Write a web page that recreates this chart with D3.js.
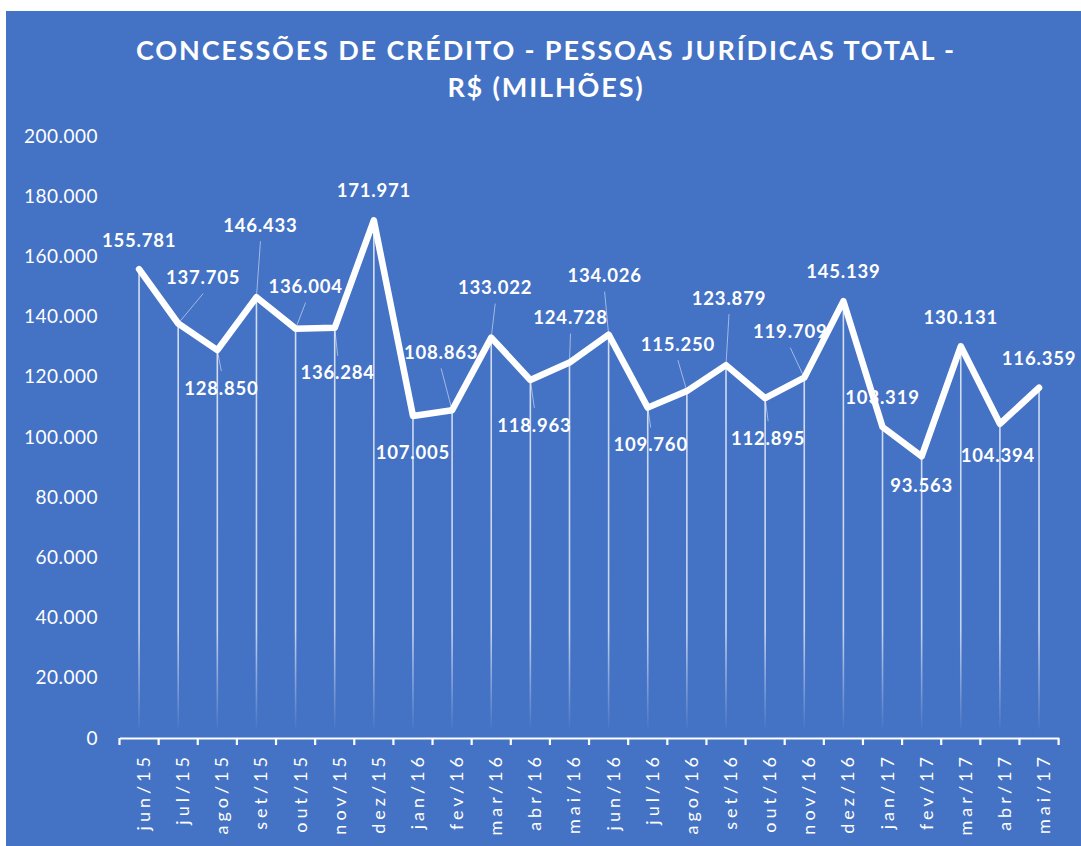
<!DOCTYPE html>
<html><head><meta charset="utf-8">
<script src="https://cdn.jsdelivr.net/npm/d3@7"></script>
<style>html,body{margin:0;padding:0;background:#fff;overflow:hidden}</style>
</head><body>
<svg id="c" width="1081" height="846"></svg>
<script>
// ---- data ----
const categories = ["jun/15","jul/15","ago/15","set/15","out/15","nov/15","dez/15","jan/16","fev/16","mar/16","abr/16","mai/16","jun/16","jul/16","ago/16","set/16","out/16","nov/16","dez/16","jan/17","fev/17","mar/17","abr/17","mai/17"];
const values = [155781,137705,128850,146433,136004,136284,171971,107005,108863,133022,118963,124728,134026,109760,115250,123879,112895,119709,145139,103319,93563,130131,104394,116359];
const yTicks = [0,20000,40000,60000,80000,100000,120000,140000,160000,180000,200000];
const titleLines = ["CONCESSÕES DE CRÉDITO - PESSOAS JURÍDICAS TOTAL -","R$ (MILHÕES)"];

// ---- layout (label offsets in px from each point) ----
const labelOffsets = [[0,-29],[25,-46],[4,38],[4,-72],[10,-42],[3,45],[0,-30],[0,36],[-11,-58],[4,-50],[4,45],[1,-45],[-4,-59],[3,37],[-9,-47],[3,-67],[3,40],[-14,-46],[0,-30],[0,-30],[0,29],[0,-29],[-2,32],[0,-29]];

const svg = d3.select("#c");
const W = 1081, H = 846;
const FONT = "Lato, 'Open Sans', sans-serif";

svg.append("rect").attr("x",6).attr("y",11).attr("width",W-6).attr("height",H-11).attr("fill","#4472C4");

const x = d3.scaleBand().domain(categories).range([119.5,1058.6]).padding(0);
const y = d3.scaleLinear().domain([0,200000]).range([738,136]);
const cx = d => x(d) + x.bandwidth()/2;

const loc = d3.formatLocale({decimal:",",thousands:".",grouping:[3],currency:["R$",""]});
const fmt = loc.format(",.0f");

// title
const title = svg.append("g");
const tl = title.selectAll("text").data(titleLines).join("text")
  .attr("x",546).attr("y",(d,i)=> i===0?60:97)
  .attr("text-anchor","middle").attr("fill","#fff")
  .style("font-family",FONT).style("font-weight","700").style("font-size","27px")
  .text(d=>d);
const len0 = tl.nodes()[0].getComputedTextLength();
const ls = (820 - len0)/(titleLines[0].length);
tl.style("letter-spacing", ls+"px");

// defs gradient for drop lines
const defs = svg.append("defs");
const grad = defs.append("linearGradient").attr("id","dropg").attr("gradientUnits","userSpaceOnUse")
  .attr("x1",0).attr("x2",0).attr("y1",136).attr("y2",738);
grad.append("stop").attr("offset","0").attr("stop-color","#fff").attr("stop-opacity",0.8);
grad.append("stop").attr("offset","0.82").attr("stop-color","#fff").attr("stop-opacity",0.7);
grad.append("stop").attr("offset","0.99").attr("stop-color","#fff").attr("stop-opacity",0);

// y axis labels
const yAxis = svg.append("g").attr("transform","translate(98,0)")
  .call(d3.axisLeft(y).tickValues(yTicks).tickFormat(fmt).tickSize(0).tickPadding(0));
yAxis.select(".domain").remove();
yAxis.selectAll("text").attr("fill","#fff").attr("x",0)
  .style("font-family",FONT).style("font-size","19px").style("letter-spacing","0.5px");

// drop lines
svg.append("g").selectAll("line").data(categories).join("line")
  .attr("x1",d=>cx(d)).attr("x2",d=>cx(d))
  .attr("y1",(d,i)=>y(values[i])).attr("y2",y(0))
  .attr("stroke","url(#dropg)").attr("stroke-width",1.6);

// x axis
const xAxis = svg.append("g").attr("transform",`translate(0,${y(0)})`)
  .call(d3.axisBottom(x).tickSize(0).tickPadding(0));
xAxis.select(".domain").attr("stroke","#fff").attr("stroke-width",2.2);
xAxis.selectAll(".tick text")
  .attr("fill","#fff").attr("text-anchor","end")
  .attr("transform","translate(11,15) rotate(-90)")
  .attr("x",0).attr("y",0).attr("dy",null)
  .style("font-family",FONT).style("font-size","18px").style("letter-spacing","4px");
const bounds = categories.map(d=>x(d)).concat([x.range()[1]]);
xAxis.append("g").selectAll("line").data(bounds).join("line")
  .attr("x1",d=>d).attr("x2",d=>d).attr("y1",0).attr("y2",7)
  .attr("stroke","#fff").attr("stroke-width",2.2);

// line
const line = d3.line().x((d,i)=>cx(categories[i])).y(d=>y(d));
svg.append("path").datum(values).attr("d",line)
  .attr("fill","none").attr("stroke","#fff").attr("stroke-width",6.5)
  .attr("stroke-linejoin","round").attr("stroke-linecap","round");

// leaders and labels
const lab = values.map((v,i)=>{
  const px = cx(categories[i]), py = y(v);
  const [dx,dy] = labelOffsets[i];
  return {v, px, py, lx:px+dx, ly:py+dy, dy};
});
svg.append("g").selectAll("line").data(lab.filter(d=>Math.abs(d.dy)>36.5)).join("line")
  .attr("x1",d=>d.px).attr("y1",d=>d.py)
  .attr("x2",d=>d.lx).attr("y2",d=>d.dy<0? d.ly+16 : d.ly-17)
  .attr("stroke","#fff").attr("stroke-opacity",0.5).attr("stroke-width",1);
svg.append("g").selectAll("text").data(lab).join("text")
  .attr("x",d=>d.lx).attr("y",d=>d.ly).attr("dy","0.36em")
  .attr("text-anchor","middle").attr("fill","#fff")
  .style("font-family",FONT).style("font-weight","700").style("font-size","18.5px").style("letter-spacing","0.8px")
  .text(d=>fmt(d.v));
</script>
</body></html>
